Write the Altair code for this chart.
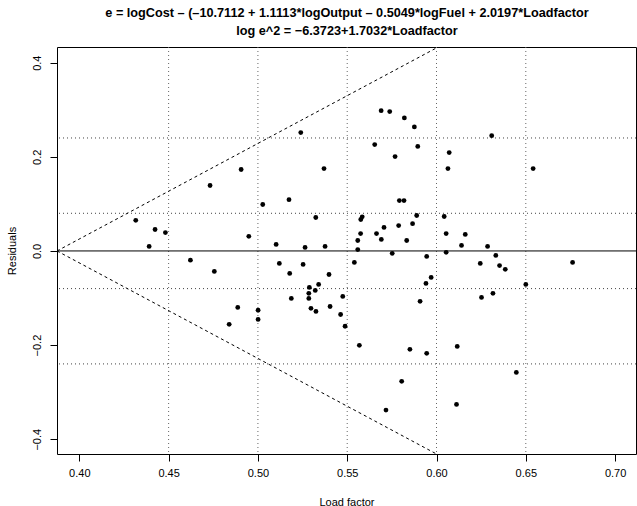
import altair as alt
import pandas as pd

load_factor = [0.4316, 0.4391, 0.4424, 0.4482, 0.4622, 0.4732, 0.4756, 0.4839, 0.4887, 0.4906,
               0.4949, 0.5001, 0.5001, 0.5027, 0.5102, 0.5120, 0.5174, 0.5178, 0.5187, 0.5240,
               0.5253, 0.5264, 0.5285, 0.5285, 0.5288, 0.5297, 0.5321, 0.5324, 0.5325, 0.5340,
               0.5370, 0.5376, 0.5398, 0.5404, 0.5463, 0.5475, 0.5488, 0.5540, 0.5559, 0.5559,
               0.5568, 0.5575, 0.5576, 0.5584, 0.5654, 0.5664, 0.5690, 0.5691, 0.5706, 0.5717,
               0.5738, 0.5752, 0.5768, 0.5788, 0.5792, 0.5805, 0.5818, 0.5820, 0.5833, 0.5851,
               0.5866, 0.5876, 0.5889, 0.5895, 0.5908, 0.5941, 0.5945, 0.5945, 0.5970, 0.6043,
               0.6054, 0.6054, 0.6064, 0.6071, 0.6112, 0.6116, 0.6140, 0.6161, 0.6245, 0.6252,
               0.6286, 0.6309, 0.6316, 0.6332, 0.6353, 0.6385, 0.6447, 0.6500, 0.6541, 0.6762]
residuals = [0.065, 0.0095, 0.0456, 0.039, -0.0195, 0.139, -0.0435, -0.156, -0.120, 0.173,
             0.031, -0.126, -0.1455, 0.0987, 0.0138, -0.0265, 0.109, -0.0478, -0.1008, 0.2516,
             -0.0287, 0.0074, -0.090, -0.1008, -0.0775, -0.122, -0.0839, 0.0711, -0.1285, -0.0711,
             0.175, 0.0095, -0.050, -0.118, -0.135, -0.0966, -0.160, -0.0244, 0.0222, 0.003,
             -0.2006, 0.037, 0.0668, 0.0724, 0.226, 0.037, 0.298, 0.0244, 0.050, -0.338,
             0.296, -0.005, 0.2006, 0.054, 0.107, -0.277, 0.107, 0.2826, 0.0222, -0.209,
             0.058, 0.2635, 0.0753, 0.222, -0.107, -0.069, -0.0117, -0.2176, -0.0563, 0.0732,
             0.037, -0.003, 0.175, 0.209, -0.326, -0.2028, 0.0117, 0.035, -0.0265, -0.0987,
             0.0095, 0.245, -0.090, -0.0096, -0.031, -0.039, -0.258, -0.0711, 0.175, -0.0244]

x_ticks = [0.40, 0.45, 0.50, 0.55, 0.60, 0.65, 0.70]
y_ticks = [-0.4, -0.2, 0.0, 0.2, 0.4]
x_grid = [0.45, 0.50, 0.55, 0.60, 0.65]
y_grid = [-0.24, -0.08, 0.08, 0.24]

# envelope lines (apex and end points)
env_x = [0.3875, 0.6004]
env_upper = [0.0, 0.4322]
env_lower = [0.0, -0.4322]

title1 = "e = logCost \u2013 (\u201310.7112 + 1.1113*logOutput \u2013 0.5049*logFuel + 2.0197*Loadfactor"
title2 = "log e^2 = \u22126.3723+1.7032*Loadfactor"

x_domain = [0.3875, 0.7117]
y_domain = [-0.4314, 0.4333]
FONT = "Liberation Sans"

df = pd.DataFrame({"lf": load_factor, "res": residuals})
xs = alt.Scale(domain=x_domain, nice=False, zero=False)
ys = alt.Scale(domain=y_domain, nice=False, zero=False)

xaxis = alt.Axis(values=x_ticks, format=".2f", title="Load factor", grid=False, domain=False,
                 tickColor="black", tickSize=7, labelPadding=6, labelFontSize=11,
                 labelColor="black", labelFont=FONT, titleFont=FONT, titleFontSize=11,
                 titleFontWeight="normal", titleColor="black", titleY=48, titleBaseline="middle")
yaxis = alt.Axis(values=y_ticks, format=".1f", title="Residuals", grid=False, domain=False,
                 tickColor="black", tickSize=7, labelPadding=8, labelFontSize=11,
                 labelColor="black", labelFont=FONT, labelAngle=270, labelAlign="center",
                 labelBaseline="bottom", titleFont=FONT, titleFontSize=11,
                 titleFontWeight="normal", titleColor="black", titleX=-45, titleAngle=270,
                 titleBaseline="middle")

points = alt.Chart(df).mark_circle(color="black", opacity=1, size=23).encode(
    x=alt.X("lf:Q", scale=xs, axis=xaxis),
    y=alt.Y("res:Q", scale=ys, axis=yaxis),
)

vgrid = alt.Chart(pd.DataFrame({"g": x_grid})).mark_rule(
    color="#666", strokeDash=[1, 3], strokeWidth=1).encode(x=alt.X("g:Q", scale=xs))
hgrid = alt.Chart(pd.DataFrame({"g": y_grid})).mark_rule(
    color="#444", strokeDash=[1, 3], strokeWidth=1).encode(y=alt.Y("g:Q", scale=ys))
zero = alt.Chart(pd.DataFrame({"g": [0.0]})).mark_rule(color="black", strokeWidth=1).encode(
    y=alt.Y("g:Q", scale=ys))

env_df = pd.DataFrame({"x": env_x * 2, "y": env_upper + env_lower,
                       "side": ["upper"] * 2 + ["lower"] * 2})
env = alt.Chart(env_df).mark_line(color="black", strokeDash=[3, 3], strokeWidth=1, clip=True).encode(
    x=alt.X("x:Q", scale=xs), y=alt.Y("y:Q", scale=ys), detail="side:N")

tdf = pd.DataFrame({"t": [title1, title2], "yy": [-34, -16]})
titles = alt.Chart(tdf).mark_text(font=FONT, fontSize=12.7, fontWeight="bold", color="black",
                                  align="center", baseline="middle").encode(
    text="t:N", x=alt.value(290), y=alt.Y("yy:Q", scale=None))

chart = alt.layer(vgrid, hgrid, zero, env, points, titles).properties(
    width=579, height=407,
    autosize=alt.AutoSizeParams(type="none"),
    padding={"left": 57, "top": 47, "right": 1, "bottom": 52},
    background="white",
).configure_view(stroke="black", strokeWidth=1)

chart.save("out.html", embed_options={"renderer": "svg", "actions": False})
